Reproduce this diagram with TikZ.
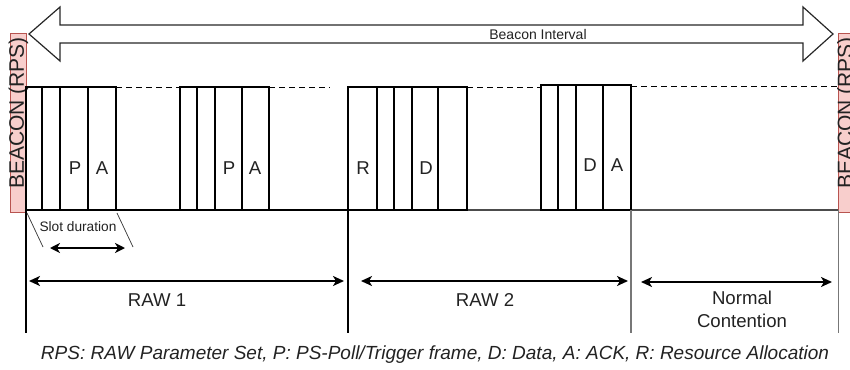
\documentclass[tikz,border=0pt]{standalone}
\usepackage{fontspec}
\setmainfont{Liberation Sans}
\usetikzlibrary{arrows.meta}
\definecolor{beaconfill}{HTML}{F8CECC}
\definecolor{beaconline}{HTML}{B85450}
\definecolor{ink}{HTML}{222222}
\definecolor{softline}{HTML}{777777}
\begin{document}
\begin{tikzpicture}[x=1pt,y=-1pt,
  txt/.style={text=ink, inner sep=0pt},
  lbl/.style={txt, font=\fontsize{18.6}{20}\selectfont},
  slotframe/.style={draw=black, line width=1.1pt},
  beacon/.style={fill=beaconfill, draw=beaconline, line width=0.6pt},
  idle/.style={draw=black, line width=1pt, dash pattern=on 6pt off 4pt},
  marker/.style={draw=black, line width=1.1pt},
  graymarker/.style={draw=softline, line width=1.3pt},
  dimarrow/.style={draw=black, line width=1.8pt,
    {Stealth[length=11pt,width=10pt,inset=3pt]}-{Stealth[length=11pt,width=10pt,inset=3pt]}},
  slant/.style={draw=black!80, line width=0.7pt}]
\useasboundingbox (0,0) rectangle (850,369);
\clip (0,0) rectangle (850,369);

% beacon interval: hollow double-headed arrow
\draw[line width=1.2pt, draw=black!85, line join=miter]
  (29,34) -- (60,7) -- (60,25) -- (803,25) -- (803,7) -- (833,34)
  -- (803,61) -- (803,43) -- (60,43) -- (60,61) -- cycle;
\node[txt, fill=white, font=\fontsize{14}{16}\selectfont,
      minimum width=101pt, minimum height=16pt] (bi) at (538,34) {Beacon Interval};

% beacon frames carrying the RPS element
\draw[beacon] (10,33) rectangle (26,212);
\node[txt, rotate=90, font=\fontsize{21}{22}\selectfont] (bcnL) at (18.5,113) {BEACON (RPS)};
\draw[beacon] (838,33) rectangle (856,212);
\node[txt, rotate=90, font=\fontsize{21}{22}\selectfont] (bcnR) at (847,113) {BEACON (RPS)};

% time axis
\coordinate (axL) at (26,210);
\coordinate (axM) at (467,210);
\coordinate (axR) at (838,210);
\draw[line width=1.1pt] (axL) -- (axM);
\draw[line width=1.1pt, draw=black!70] (axM) -- (axR);

% RAW 1, first slot group
\foreach \a/\b in {26/42, 42/60, 60/88, 88/116}
  \draw[slotframe] (\a,87) rectangle (\b,210);
\node[lbl] (p1) at (75,168) {P};
\node[lbl] (a1) at (102,168) {A};
\draw[idle] (116,87) -- (180,87);

% RAW 1, second slot group
\foreach \a/\b in {180/197, 197/215, 215/242, 242/269}
  \draw[slotframe] (\a,87) rectangle (\b,210);
\node[lbl] (p2) at (229,168) {P};
\node[lbl] (a2) at (255,168) {A};
\draw[idle] (269,87) -- (330,87);

% RAW 2, first slot group
\foreach \a/\b in {348/377, 377/394, 394/412, 412/438, 438/467}
  \draw[slotframe] (\a,87) rectangle (\b,210);
\node[lbl] (r3) at (363,168) {R};
\node[lbl] (d3) at (426,168) {D};
\draw[idle] (467,87) -- (541,87);

% RAW 2, second slot group
\foreach \a/\b in {541/558, 558/576, 576/603, 603/631}
  \draw[slotframe] (\a,85) rectangle (\b,210);
\node[lbl] (d4) at (590,165) {D};
\node[lbl] (a4) at (617,165) {A};
\draw[idle] (631,86) -- (838,86);

% period boundaries
\coordinate (b0t) at (26,210);   \coordinate (b0b) at (26,333);
\coordinate (b1t) at (348,210);  \coordinate (b1b) at (348,333);
\coordinate (b2t) at (631,210);  \coordinate (b2b) at (631,333);
\coordinate (b3t) at (838.5,210);\coordinate (b3b) at (838.5,333);
\draw[marker] (b0t) -- (b0b);
\draw[marker] (b1t) -- (b1b);
\draw[graymarker] (b2t) -- (b2b);
\draw[graymarker] (b3t) -- (b3b);

% slot duration
\coordinate (s0t) at (27,213);  \coordinate (s0b) at (43,247);
\coordinate (s1t) at (117,213); \coordinate (s1b) at (133,247);
\draw[slant] (s0t) -- (s0b);
\draw[slant] (s1t) -- (s1b);
\node[txt, font=\fontsize{13.7}{15}\selectfont] (sd) at (78,227) {Slot duration};
\coordinate (sdL) at (50,248);
\coordinate (sdR) at (125,248);
\draw[dimarrow, line width=2pt,
  {Stealth[length=10pt,width=10pt,inset=3pt]}-{Stealth[length=10pt,width=10pt,inset=3pt]}] (sdL) -- (sdR);

% period extents
\coordinate (r1L) at (29,281);  \coordinate (r1R) at (344,281);
\coordinate (r2L) at (361,281); \coordinate (r2R) at (628,281);
\coordinate (ncL) at (641,282); \coordinate (ncR) at (832,282);
\draw[dimarrow] (r1L) -- (r1R);
\draw[dimarrow] (r2L) -- (r2R);
\draw[dimarrow] (ncL) -- (ncR);
\node[lbl] (raw1) at (157,300) {RAW 1};
\node[lbl] (raw2) at (485,300) {RAW 2};
\node[lbl, align=center, font=\fontsize{18.6}{23}\selectfont] (nc) at (742,309) {Normal\\Contention};

% legend
\node[txt, font=\fontsize{19}{21}\selectfont\itshape] (legend) at (435,355)
  {RPS: RAW Parameter Set, P: PS-Poll/Trigger frame, D: Data, A: ACK, R: Resource Allocation};
\end{tikzpicture}
\end{document}
